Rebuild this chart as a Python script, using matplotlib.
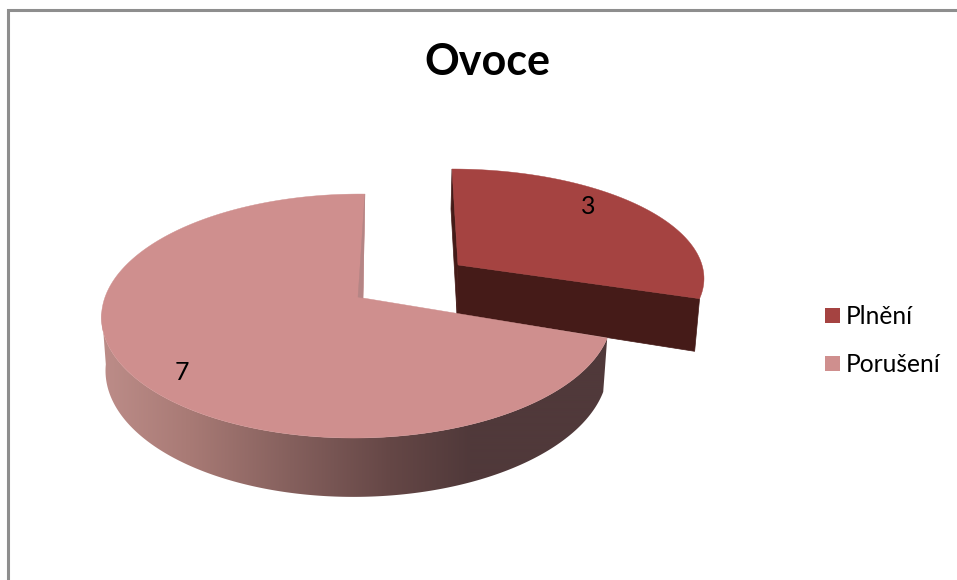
# plot.py - 3D looking pie "Ovoce"
import numpy as np
import matplotlib
matplotlib.use("Agg")
import matplotlib.pyplot as plt

names = ["Plnění", "Porušení"]
values = [3, 7]
colors = ["#A54341", "#CF8F8E"]
title = "Ovoce"

# side shading of the big slice, left to right
shade_x = [105, 190, 290, 390, 470, 610]
shade_r = [188, 168, 133, 101, 80, 80]
shade_g = [140, 122, 96, 71, 57, 57]
shade_b = [136, 117, 93, 70, 58, 58]

plt.rcParams["font.family"] = ["Lato", "DejaVu Sans"]

# slice angles from the values, clockwise from 12 o'clock
total = sum(values)
angle_1 = 2 * np.pi * values[0] / total


def project(theta, cx, cy, rx, ry, k, t, u):
    # circle seen in perspective, theta clockwise from the far side
    X = np.sin(theta)
    Y = np.cos(theta)
    w = 1 + k * Y
    return cx + (rx * X + t * Y) / w, cy - (ry * Y + u * X) / w


big_top = dict(cx=358, cy=297, rx=252, ry=119, k=0.156, t=8, u=-2.4)
big_low = dict(cx=358, cy=349, rx=248, ry=124.8, k=0.156, t=8, u=-2.4)
small_top = dict(cx=458, cy=265, rx=244, ry=105.6, k=0.1, t=-6.6, u=0)
small_low = dict(cx=457, cy=314, rx=240, ry=117, k=0.1, t=-6.6, u=0)

fig = plt.figure(figsize=(9.57, 5.8), dpi=100)
ax = fig.add_axes([0, 0, 1, 1])
ax.set_xlim(0, 957)
ax.set_ylim(580, 0)
ax.axis("off")

# chart frame
ax.plot([7.5, 7.5, 957], [580, 10, 10], color="#8E8E8E", lw=2.2, solid_joinstyle="miter")

# exploded slice
sx0, sy0 = project(0, **small_top)
sx1, sy1 = project(angle_1, **small_top)
lx0, ly0 = project(angle_1, **small_low)
ax.fill([small_top["cx"], sx1, lx0, small_low["cx"]],
        [small_top["cy"], sy1, ly0, small_low["cy"]], color="#451B18", lw=0.5)
ax.fill([sx0, sx0 - 1, small_low["cx"], small_top["cx"]],
        [sy0, sy0 + 40, small_low["cy"], small_top["cy"]], color="#451B18", lw=0.5)
th = np.linspace(0, angle_1, 120)
x, y = project(th, **small_top)
ax.fill(np.r_[small_top["cx"], x], np.r_[small_top["cy"], y], color=colors[0], lw=0.3)

# big slice side wall, gradient runs only along x
th = np.linspace(angle_1, np.radians(262), 220)
xt, yt = project(th, **big_top)
xl, yl = project(th, **big_low)
wall = ax.fill(np.r_[xt, xl[::-1]], np.r_[yt, yl[::-1]], color="none", lw=0)[0]
px = np.arange(90, 620)
grad = np.stack([np.interp(px, shade_x, shade_r), np.interp(px, shade_x, shade_g),
                 np.interp(px, shade_x, shade_b)], axis=-1)[None, :, :] / 255
img = ax.imshow(grad, extent=(90, 620, 520, 280), aspect="auto", interpolation="bilinear")
img.set_clip_path(wall)
ax.set_xlim(0, 957)
ax.set_ylim(580, 0)

# big slice top
x0, y0 = project(0, **big_top)
th = np.linspace(angle_1, 2 * np.pi, 300)
x, y = project(th, **big_top)
ax.fill(np.r_[big_top["cx"] + 5, x], np.r_[big_top["cy"] + 1, y], color=colors[1], lw=0.3)

# inner wall next to the gap
ax.fill([x0, big_top["cx"], big_top["cx"] + 5], [y0, big_top["cy"], big_top["cy"] + 1],
        color="#B58585", lw=0.3)

# value labels
ax.text(588, 207, str(values[0]), fontsize=18, ha="center", va="center", color="black")
ax.text(182, 373, str(values[1]), fontsize=18, ha="center", va="center", color="black")

ax.text(487, 62, title, fontsize=31, fontweight="bold", ha="center", va="center", color="black")

# legend
for name, col, ytop in zip(names, colors, [308, 356]):
    ax.add_patch(plt.Rectangle((825, ytop), 15, 15, color=col, lw=0))
    ax.text(846, ytop + 8, name, fontsize=17.7, ha="left", va="center", color="black")

fig.savefig("out.png", dpi=100)
